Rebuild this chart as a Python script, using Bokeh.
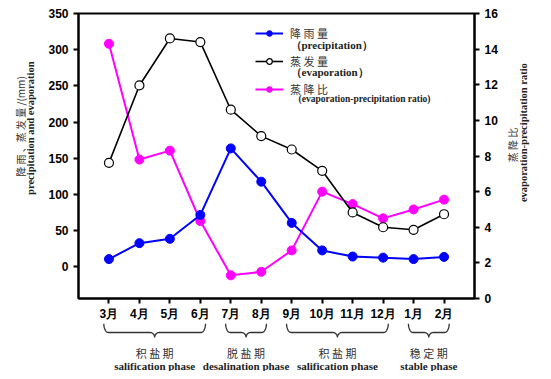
import math
import numpy as np
from bokeh.plotting import figure
from bokeh.models import Range1d, LinearAxis, FixedTicker, Label, Legend, LegendItem
from bokeh.layouts import column, row
from bokeh.embed import file_html
from bokeh.resources import INLINE
from bokeh.core.properties import value

# ---------------- data ----------------
months = ["3月", "4月", "5月", "6月", "7月", "8月", "9月", "10月", "11月", "12月", "1月", "2月"]
precipitation = [10.5, 32.5, 38.5, 71.5, 163.5, 117.5, 60.5, 22.5, 14.0, 12.5, 10.5, 13.5]
evaporation = [143.5, 250.5, 315.5, 310.5, 217.0, 180.5, 162.0, 132.5, 75.0, 54.5, 51.0, 72.5]
ratio = [14.3, 7.8, 8.3, 4.35, 1.3, 1.5, 2.7, 6.0, 5.3, 4.5, 5.0, 5.55]
left_ticks = [0, 50, 100, 150, 200, 250, 300, 350]
right_ticks = [0, 2, 4, 6, 8, 10, 12, 14, 16]
phase_cn = ["积 盐 期", "脱 盐 期", "积 盐 期", "稳 定 期"]
phase_en = ["salification phase", "desalination phase", "salification phase", "stable phase"]
phase_first = ["3月", "7月", "9月", "1月"]
phase_last = ["6月", "8月", "12月", "2月"]
left_title_cn = "降 雨 、蒸 发 量 /(mm)"
left_title_en = "precipitation and evaporation"
right_title_cn = "蒸 降 比"
right_title_en = "evaporation-precipitation ratio"

x = [i + 1 for i in range(len(months))]

BLUE = "#0000FF"
MAG = "#FF00FF"
SERIF = "Liberation Serif"
CJK = "Noto Sans CJK SC"

H_MAIN = 323
W_LEFT = 40
W_RIGHT = 51
W_MAIN = 460

# ---------------- main figure ----------------
p = figure(width=W_MAIN, height=H_MAIN, x_range=Range1d(0, len(months) + 1),
           y_range=Range1d(-44, 350), output_backend="svg", toolbar_location=None,
           min_border_left=38, min_border_right=26, min_border_top=13, min_border_bottom=25,
           background_fill_color="white", border_fill_color="white")
p.extra_y_ranges = {"ratio": Range1d(0, 16)}
p.xgrid.visible = False
p.ygrid.visible = False
p.outline_line_color = "black"
p.outline_line_width = 2

p.xaxis.ticker = FixedTicker(ticks=x)
p.xaxis.major_label_overrides = {xi: m for xi, m in zip(x, months)}
p.yaxis.ticker = FixedTicker(ticks=left_ticks)

raxis = LinearAxis(y_range_name="ratio", ticker=FixedTicker(ticks=right_ticks))
p.add_layout(raxis, "right")

for ax in [p.xaxis[0], p.yaxis[0], raxis]:
    ax.axis_line_width = 2
    ax.axis_line_color = "black"
    ax.major_tick_line_width = 2
    ax.major_tick_line_color = "black"
    ax.major_tick_out = 5
    ax.major_tick_in = 0
    ax.minor_tick_out = 0
    ax.minor_tick_in = 0
    ax.major_label_text_font = "Liberation Sans"
    ax.major_label_text_font_style = "bold"
    ax.major_label_text_font_size = "12px"
    ax.major_label_text_color = "black"
p.xaxis[0].major_label_standoff = 3

# series
rl = p.line(x, ratio, y_range_name="ratio", line_color=MAG, line_width=2)
rs = p.scatter(x, ratio, y_range_name="ratio", size=9, fill_color=MAG, line_color=MAG)
bl = p.line(x, precipitation, line_color=BLUE, line_width=2)
bs = p.scatter(x, precipitation, size=9, fill_color=BLUE, line_color=BLUE)
el = p.line(x, evaporation, line_color="black", line_width=1.6)
es = p.scatter(x, evaporation, size=9, fill_color="white", line_color="black", line_width=1.2)

legend = Legend(items=[LegendItem(label="降 雨 量", renderers=[bl, bs]),
                       LegendItem(label="蒸 发 量", renderers=[el, es]),
                       LegendItem(label="蒸 降 比", renderers=[rl, rs])],
                location=(177, 201), glyph_width=28, glyph_height=14, label_height=14,
                spacing=12, padding=0, margin=0, label_standoff=7,
                border_line_color=None, background_fill_alpha=0,
                label_text_font=CJK, label_text_font_size="11px", label_text_color="#333333")
p.add_layout(legend)

for txt, sx, sy, fs in [("（precipitation）", 212, 254, "11px"),
                        ("（evaporation）", 212, 227, "11px"),
                        ("(evaporation-precipitation ratio)", 220, 200, "9.5px")]:
    p.add_layout(Label(x=sx, y=sy, x_units="screen", y_units="screen", text=txt,
                       text_font=SERIF, text_font_style="bold", text_font_size=fs,
                       text_color="#222222", text_align="left", text_baseline="middle"))


def title_fig(width):
    f = figure(width=width, height=H_MAIN, x_range=Range1d(0, width), y_range=Range1d(0, H_MAIN),
               output_backend="svg", toolbar_location=None, x_axis_type=None, y_axis_type=None,
               min_border_left=0, min_border_right=0, min_border_top=0, min_border_bottom=0,
               background_fill_color="white", border_fill_color="white")
    f.outline_line_color = None
    f.grid.visible = False
    return f


# left axis titles (page-pixel positions inside the side panel)
L = title_fig(W_LEFT)
L.text(x=[20], y=[H_MAIN - 128], text=[left_title_cn], angle=math.pi / 2,
       text_font=value(CJK), text_font_size="10px", text_color="#333333",
       text_align="center", text_baseline="middle")
L.text(x=[30], y=[H_MAIN - 130], text=[left_title_en], angle=math.pi / 2,
       text_font=value(SERIF), text_font_style="bold", text_font_size="10.5px",
       text_color="#222222", text_align="center", text_baseline="middle")

# right axis titles
R = title_fig(W_RIGHT)
R.text(x=[12], y=[H_MAIN - 149], text=[right_title_cn], angle=math.pi / 2,
       text_font=value(CJK), text_font_size="10px", text_color="#333333",
       text_align="center", text_baseline="middle")
R.text(x=[23], y=[H_MAIN - 135], text=[right_title_en], angle=math.pi / 2,
       text_font=value(SERIF), text_font_style="bold", text_font_size="10.5px",
       text_color="#222222", text_align="center", text_baseline="middle")

# ---------------- phase braces figure ----------------
W_ALL = W_LEFT + W_MAIN + W_RIGHT
b = figure(width=W_ALL, height=48, x_range=p.x_range, y_range=Range1d(48, 0),
           output_backend="svg", toolbar_location=None, x_axis_type=None, y_axis_type=None,
           min_border_left=W_LEFT + 38, min_border_right=W_RIGHT + 26,
           min_border_top=0, min_border_bottom=0,
           background_fill_color="white", border_fill_color="white")
b.outline_line_color = None
b.grid.visible = False


def brace(x0, x1, ytop=0.0, ymid=9.0, ytip=14.0, r=0.15):
    xc = (x0 + x1) / 2
    t = np.linspace(0, np.pi / 2, 12)
    ax1 = x0 + r - r * np.cos(t)
    ay1 = ytop + (ymid - ytop) * np.sin(t)
    ax2 = xc - r + r * np.sin(t)
    ay2 = ymid + (ytip - ymid) * (1 - np.cos(t))
    left_x = np.concatenate([ax1, ax2])
    left_y = np.concatenate([ay1, ay2])
    right_x = (2 * xc - left_x)[::-1]
    right_y = left_y[::-1]
    return list(np.concatenate([left_x, right_x])), list(np.concatenate([left_y, right_y]))


xs, ys, centers = [], [], []
pad = 0.17
for f, l in zip(phase_first, phase_last):
    x0 = x[months.index(f)] - pad
    x1 = x[months.index(l)] + pad
    bx, by = brace(x0, x1)
    xs.append(bx)
    ys.append(by)
    centers.append((x0 + x1) / 2)

b.multi_line(xs, ys, line_color="#333333", line_width=1.3)
b.text(x=centers, y=[29] * len(centers), text=phase_cn, text_font=value(CJK),
       text_font_size="11px", text_color="#333333", text_align="center", text_baseline="middle")
b.text(x=centers, y=[42] * len(centers), text=phase_en, text_font=value(SERIF),
       text_font_style="bold", text_font_size="11px", text_color="#222222",
       text_align="center", text_baseline="middle")

layout = column(row(L, p, R, spacing=0), b, spacing=0)
open("out.html", "w").write(file_html(layout, INLINE))
